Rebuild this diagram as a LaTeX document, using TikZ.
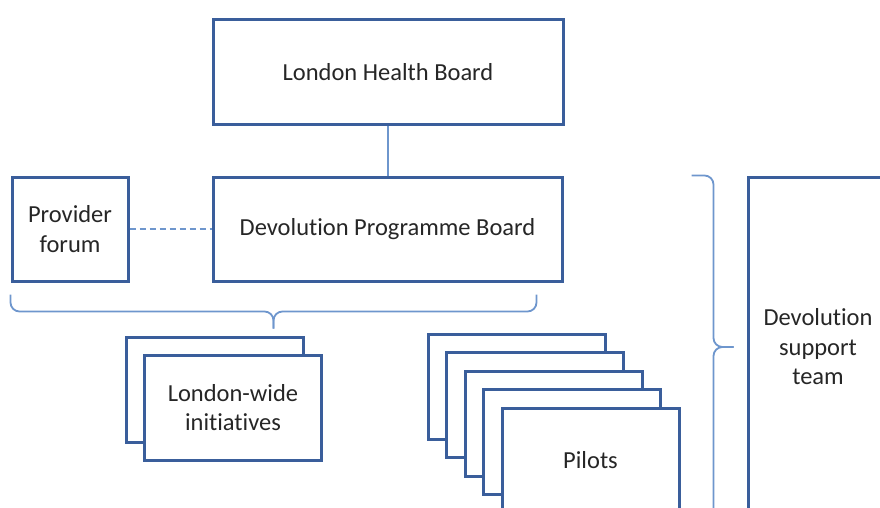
\documentclass[tikz,border=0pt]{standalone}
\usepackage{fontspec}
\setmainfont{Carlito}[Ligatures=NoCommon]
\definecolor{boxblue}{RGB}{58, 94, 155}
\definecolor{lineblue}{RGB}{110, 150, 205}
\definecolor{textgray}{RGB}{38, 38, 38}
\usetikzlibrary{positioning, calc}

\tikzset{
  orgbox/.style={draw=boxblue, line width=3pt, fill=white, text=textgray,
    align=center, inner sep=0pt, font=\fontsize{24.5}{29.5}\selectfont},
  linkline/.style={draw=lineblue, line width=1.8pt},
  bracket/.style={linkline, rounded corners=9pt}
}

\begin{document}
\begin{tikzpicture}[x=1pt, y=-1pt]
  \useasboundingbox (0, 0) rectangle (880, 508);
  \clip (0, 0) rectangle (880, 508);

  % Boards
  \node[orgbox, minimum width=350pt, minimum height=105pt] (lhb) at (388, 72.5) {London Health Board};
  \node[orgbox, minimum width=349pt, minimum height=104pt] (dpb) at (387.5, 229) {Devolution Programme Board};
  \node[orgbox, minimum width=116pt, minimum height=104pt] (pf) at (70, 229) {Provider\\forum};

  \draw[linkline] (dpb.north -| lhb.south) -- (lhb.south);
  \draw[linkline, dash pattern=on 6pt off 4pt] (pf.east) -- (dpb.west);

  % Brace over both boards
  \coordinate (bl) at ([yshift=-12pt]pf.south west);
  \coordinate (br) at ([xshift=-27pt, yshift=-12pt]dpb.south east);
  \coordinate (bm) at ($(bl)!0.5!(br)$);
  \draw[bracket] (bl) |- ([yshift=-17pt]bm) -- ([yshift=-34pt]bm);
  \draw[bracket] (br) |- ([yshift=-17pt]bm) -- ([yshift=-34pt]bm);

  % London-wide initiatives
  \node[orgbox, minimum width=177pt, minimum height=105pt] (lwiback) at (214.5, 389.5) {};
  \node[orgbox, minimum width=177pt, minimum height=105pt] (lwi) at (233, 407.5) {London-wide\\initiatives};

  % Pilots (stack of five)
  \foreach \i in {1,...,4}
    \node[orgbox, minimum width=177pt, minimum height=105pt] (pilot\i) at (516.5+18.5*\i-18.5, 386.5+18.5*\i-18.5) {};
  \node[orgbox, minimum width=177pt, minimum height=105pt] (pilots) at (590.5, 460.5) {Pilots};

  % Support team
  \node[orgbox, minimum width=140pt, minimum height=340pt] (dst) at (818, 347) {Devolution\\support\\team};
  \coordinate (rt) at ([xshift=-55pt]dst.north west);
  \coordinate (rb) at ([xshift=-55pt]dst.south west);
  \coordinate (rm) at ($(rt)!0.5!(rb)$);
  \draw[bracket] (rt) -| ([xshift=22pt]rm) -- ([xshift=42pt]rm);
  \draw[bracket] (rb) -| ([xshift=22pt]rm) -- ([xshift=42pt]rm);
\end{tikzpicture}
\end{document}
